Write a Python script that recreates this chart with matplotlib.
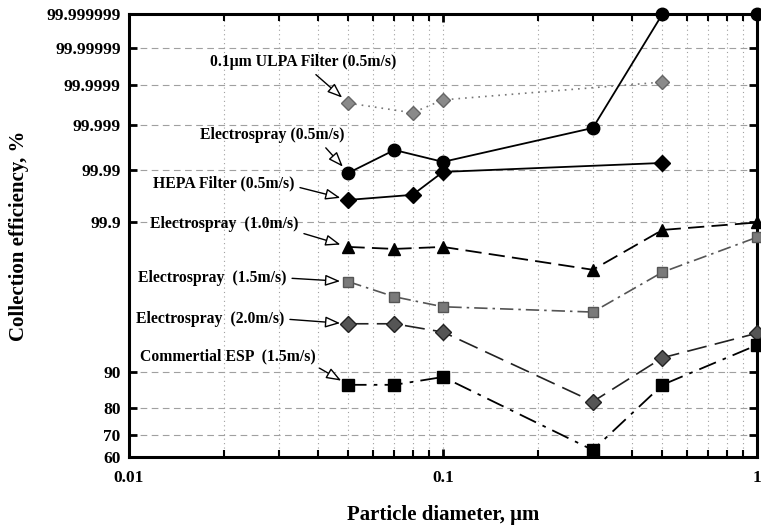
import numpy as np
import matplotlib
matplotlib.use("Agg")
import matplotlib.pyplot as plt
from matplotlib.ticker import FixedLocator, NullFormatter
from statistics import NormalDist

# particle diameters, um
d_ulpa = [0.05, 0.08, 0.1, 0.5]
d_hepa = [0.05, 0.08, 0.1, 0.5]
d_es = [0.05, 0.07, 0.1, 0.3, 0.5, 1.0]

# collection efficiency, %
eff_ulpa = [99.99971, 99.9995, 99.99976, 99.999916]
eff_es05 = [99.9888, 99.99636, 99.99342, 99.99885, 99.999999, 99.999999]
eff_hepa = [99.9615, 99.9692, 99.9893, 99.99306]
eff_es10 = [99.74, 99.72, 99.74, 99.41, 99.865, 99.90]
eff_es15 = [99.12, 98.58, 98.08, 97.76, 99.36, 99.82]
eff_es20 = [96.89, 96.89, 96.12, 82.2, 92.7, 96.0]
eff_esp = [87.0, 87.0, 88.9, 63.2, 87.0, 94.6]

y_ticks = [60, 70, 80, 90, 99.9, 99.99, 99.999, 99.9999, 99.99999, 99.999999]
y_labels = ["60", "70", "80", "90", "99.9", "99.99", "99.999", "99.9999",
            "99.99999", "99.999999"]

# probability (normal quantile) scale for the y axis
_nd = NormalDist()
_ppf = np.vectorize(_nd.inv_cdf, otypes=[float])
_cdf = np.vectorize(_nd.cdf, otypes=[float])


def fwd(v):
    p = np.clip(np.asarray(v, float) / 100.0, 1e-11, 1 - 1e-11)
    return _ppf(p)


def inv(z):
    return _cdf(np.asarray(z, float)) * 100.0


plt.rcParams['font.family'] = ['Liberation Serif', 'DejaVu Serif']
plt.rcParams['font.weight'] = 'bold'

fig = plt.figure(figsize=(7.61, 5.29), dpi=100)
ax = fig.add_axes([129 / 761, 72 / 529, 628 / 761, 443 / 529])

ax.set_xscale('log')
ax.set_yscale('function', functions=(fwd, inv))
ax.set_xlim(0.01, 1)
ax.set_ylim(60, 99.999999)

ms = 9
ax.plot(d_ulpa, eff_ulpa, linestyle=(0, (1, 3)), color='#777777', lw=1.2,
        marker='D', ms=7.5, mfc='#8a8a8a', mec='#666666', zorder=4, clip_on=False)
ax.plot(d_es, eff_es05, '-', color='black', lw=1.3,
        marker='o', ms=ms, mfc='black', mec='black', zorder=4, clip_on=False)
ax.plot(d_hepa, eff_hepa, '-', color='black', lw=1.3,
        marker='D', ms=8, mfc='black', mec='black', zorder=4, clip_on=False)
ax.plot(d_es, eff_es10, linestyle=(0, (9, 4)), color='black', lw=1.3,
        marker='^', ms=ms, mfc='black', mec='black', zorder=4, clip_on=False)
ax.plot(d_es, eff_es15, linestyle=(0, (8, 3, 1.5, 3)), color='#555555', lw=1.2,
        marker='s', ms=7, mfc='#7a7a7a', mec='#555555', zorder=4, clip_on=False)
ax.plot(d_es, eff_es20, linestyle=(0, (12, 5)), color='#222222', lw=1.2,
        marker='D', ms=8, mfc='#555555', mec='#222222', zorder=4, clip_on=False)
ax.plot(d_es, eff_esp, linestyle=(0, (10, 4, 2, 4)), color='black', lw=1.3,
        marker='s', ms=8.5, mfc='black', mec='black', zorder=4, clip_on=False)

# ticks
ax.yaxis.set_major_locator(FixedLocator(y_ticks))
ax.set_yticklabels(y_labels)
ax.yaxis.set_minor_locator(FixedLocator([]))
ax.set_xticks([0.01, 0.1, 1])
ax.set_xticklabels(["0.01", "0.1", "1"])
ax.xaxis.set_minor_locator(FixedLocator(
    [m * 10.0 ** e for e in (-2, -1) for m in range(2, 10)]))
ax.xaxis.set_minor_formatter(NullFormatter())
ax.tick_params(which='both', direction='in', top=True, right=True)
ax.tick_params(which='major', length=6, width=2, labelsize=12.5)
ax.tick_params(which='minor', length=5, width=1.5)
ax.tick_params(axis='x', pad=9)
ax.tick_params(axis='y', pad=6)
for s in ax.spines.values():
    s.set_linewidth(2.2)

ax.grid(axis='y', which='major', color='#a0a0a0', lw=0.8, linestyle=(0, (6, 4)))
ax.grid(axis='x', which='both', color='#a0a0a0', lw=0.8, linestyle=(0, (1, 3)))
ax.set_axisbelow(True)

ax.set_xlabel("Particle diameter, \u03bcm", fontsize=15, fontweight='bold', labelpad=14)
ax.set_ylabel("Collection efficiency, %", fontsize=15, fontweight='bold')
ax.yaxis.set_label_coords(-0.159, 0.5)

# labels with arrows
def fx(px):
    return (px - 129) / 628


def fy(py):
    return (457 - py) / 443


notes = [
    ("0.1\u03bcm ULPA Filter (0.5m/s)", d_ulpa[0], eff_ulpa[0], 210, 62, (0.54, 0.0)),
    ("Electrospray (0.5m/s)", d_es[0], eff_es05[0], 200, 135, (0.84, 0.0)),
    ("HEPA Filter (0.5m/s)", d_hepa[0], eff_hepa[0], 153, 183, (1.0, 0.3)),
    ("Electrospray  (1.0m/s)", d_es[0], eff_es10[0], 150, 224, (1.0, 0.0)),
    ("Electrospray  (1.5m/s)", d_es[0], eff_es15[0], 138, 278, (1.0, 0.5)),
    ("Electrospray  (2.0m/s)", d_es[0], eff_es20[0], 136, 319, (1.0, 0.5)),
    ("Commertial ESP  (1.5m/s)", d_es[0], eff_esp[0], 140, 356, (0.98, 0.0)),
]
for txt, xd, yd, px, py, rp in notes:
    ax.annotate(txt, xy=(xd, yd), xycoords='data',
                xytext=(fx(px), fy(py)), textcoords='axes fraction',
                ha='left', va='center', fontsize=11.3, fontweight='bold',
                arrowprops=dict(arrowstyle='-|>,head_length=0.8,head_width=0.3',
                                fc='white', ec='black', lw=1.0,
                                relpos=rp, shrinkA=2, shrinkB=6),
                zorder=5)

fig.savefig("out.png", dpi=100)
